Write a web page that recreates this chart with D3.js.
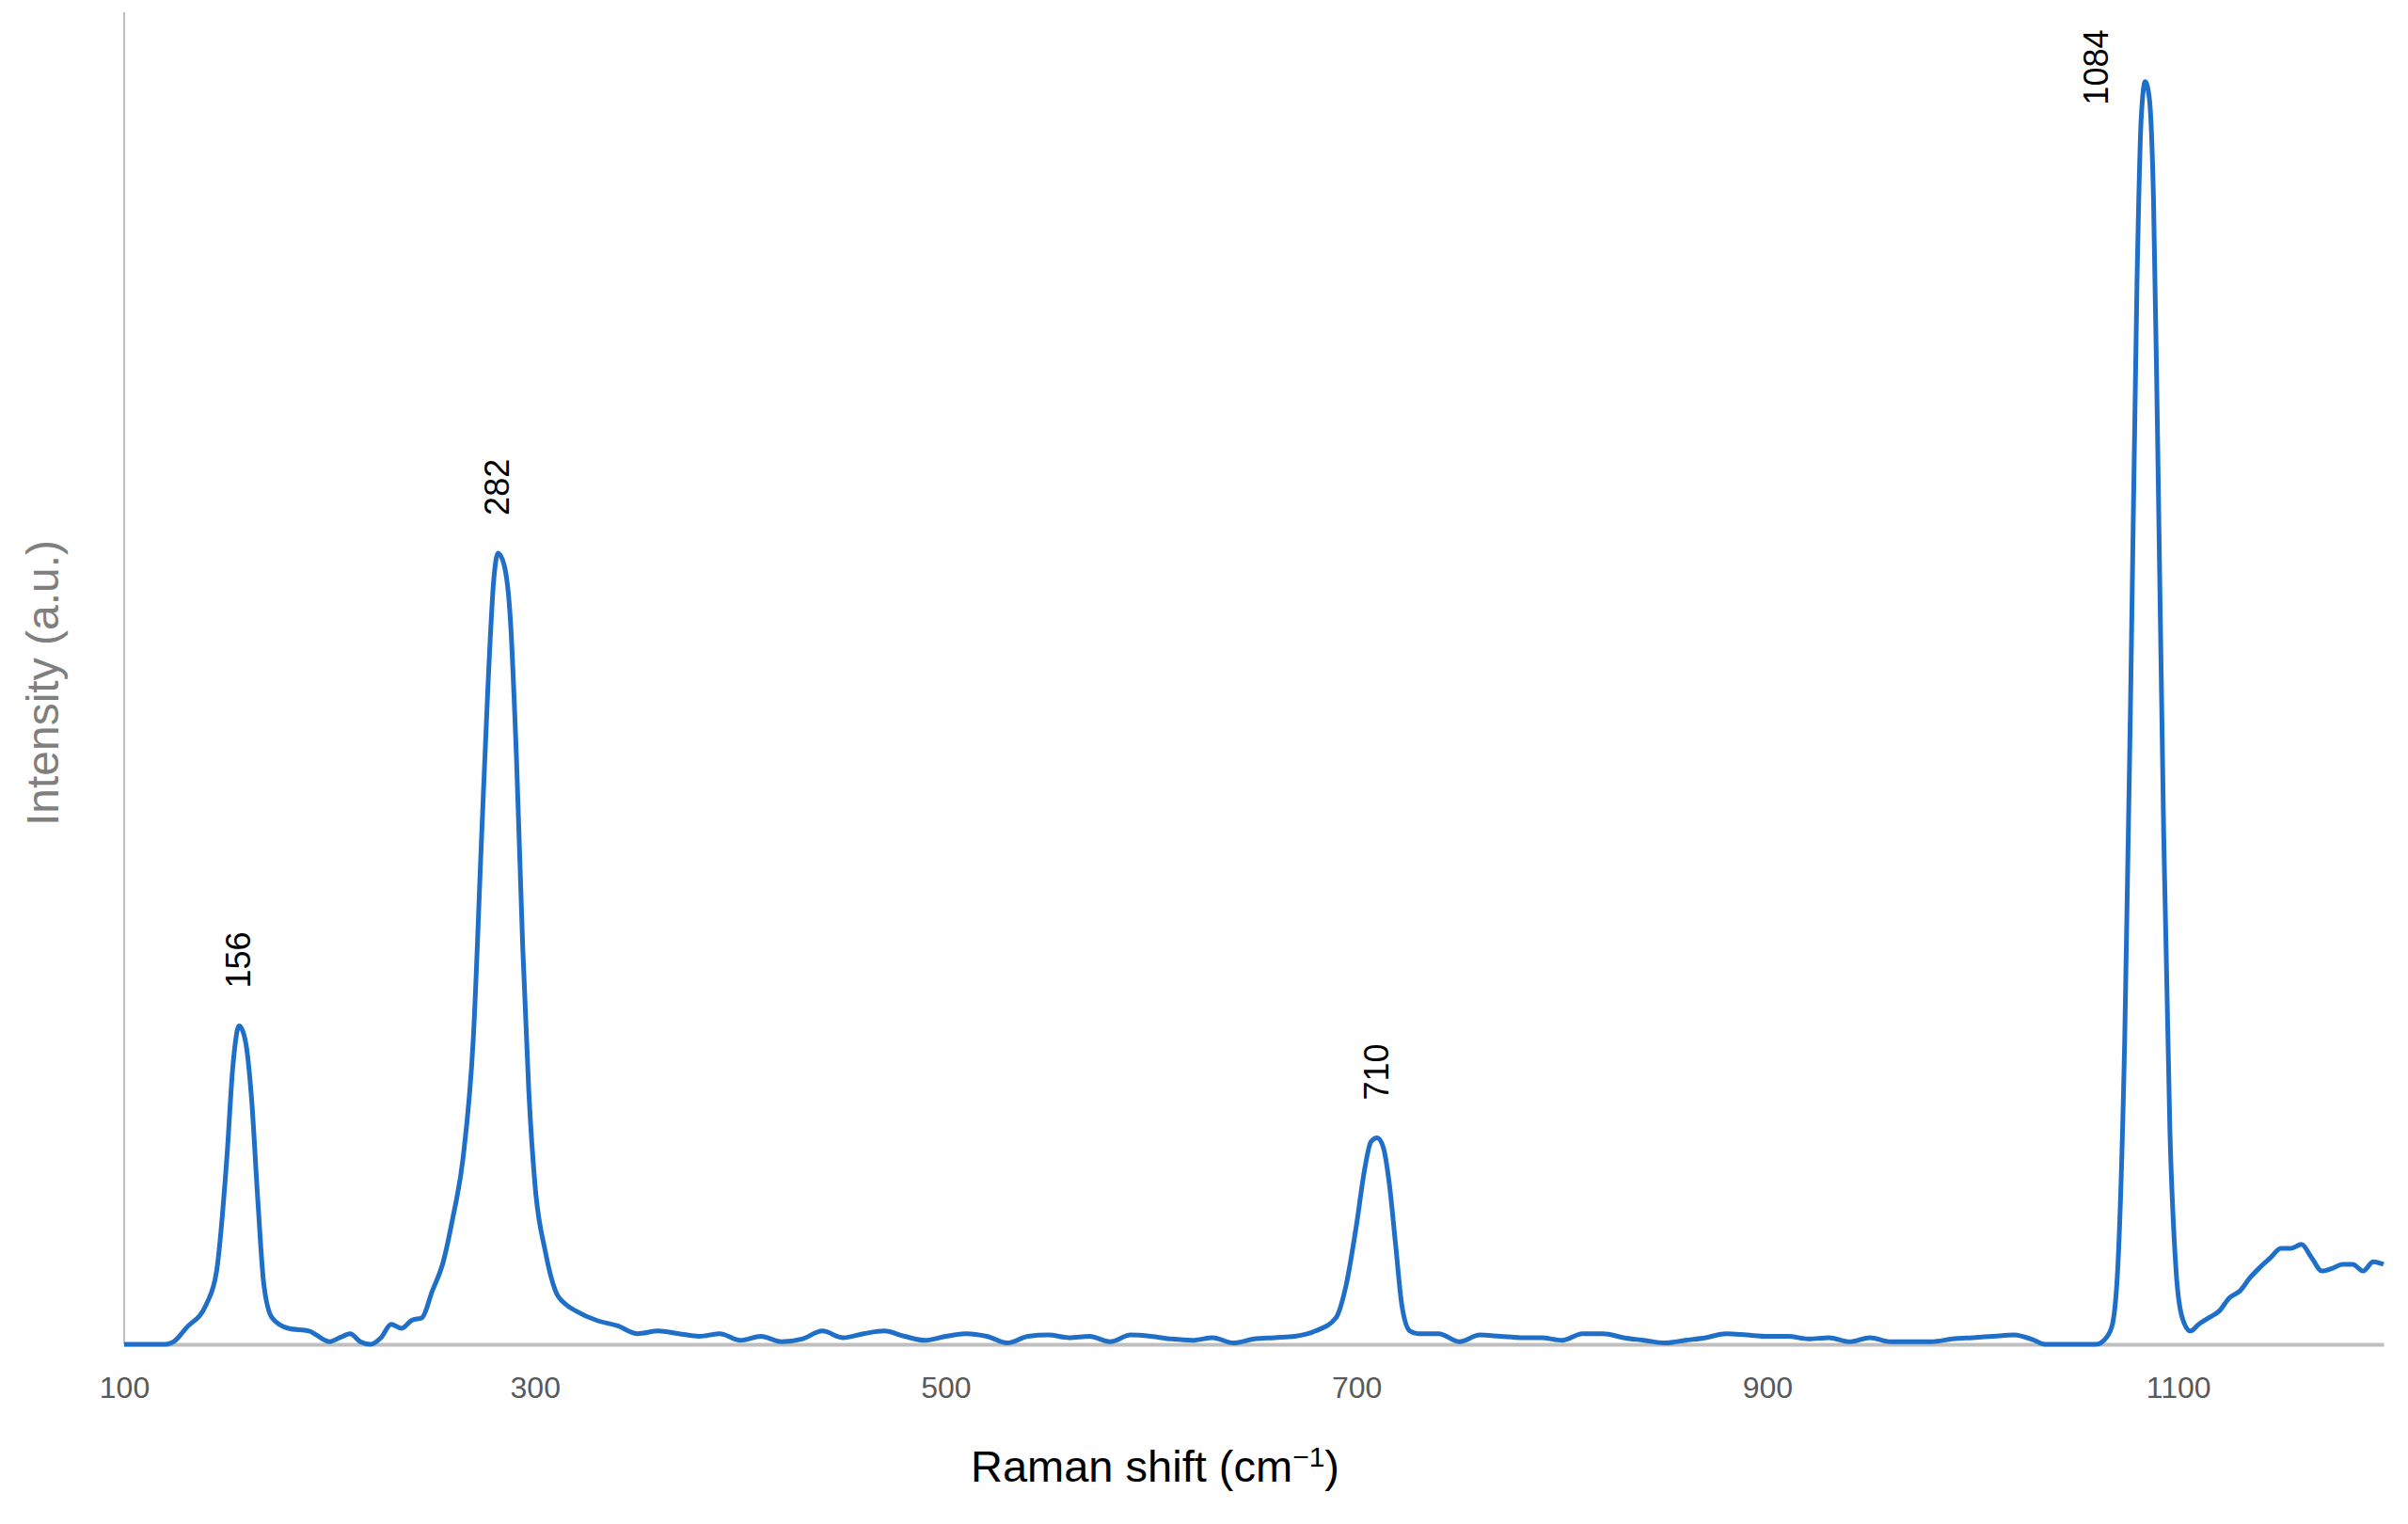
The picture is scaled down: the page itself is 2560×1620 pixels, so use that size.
<!DOCTYPE html>
<html><head><meta charset="utf-8">
<script src="https://cdn.jsdelivr.net/npm/d3@7"></script>
<style>body{margin:0;background:#fff}svg{display:block}text{font-family:Arial,"Liberation Sans",sans-serif}</style>
</head><body><svg id="c" width="2560" height="1620"></svg>
<script>
const shift = [100,110,120,125,130,140,145,150,153,156,159,162,165,168,172,180,190,200,205,210,215,220,225,230,235,240,245,250,255,260,265,270,274,277,280,282,285,288,291,294,297,300,305,310,315,320,330,340,350,360,370,380,390,400,410,420,430,440,450,460,470,480,490,500,510,520,530,540,550,560,570,580,590,600,610,620,630,640,650,660,670,680,690,695,700,704,707,710,713,716,719,722,726,730,740,750,760,770,780,790,800,810,820,830,840,850,860,870,880,890,900,910,920,930,940,950,960,970,980,990,1000,1010,1020,1030,1035,1050,1060,1065,1068,1071,1074,1077,1080,1082,1084,1086,1088,1090,1093,1096,1099,1102,1106,1110,1115,1120,1125,1130,1135,1140,1145,1150,1155,1160,1165,1170,1175,1180,1185,1190,1195,1200];
const intensity = [0,0,0,3,12,30,55,140,210,239,228,185,110,45,20,12,10,2,5,8,2,0,5,15,12,18,20,40,60,95,140,230,380,490,575,594,585,545,440,300,190,120,70,40,30,25,18,14,8,10,8,6,8,3,6,2,4,10,5,8,10,6,3,6,8,6,1,6,7,5,6,2,7,6,4,3,5,1,4,5,6,10,20,45,90,132,152,155,148,120,75,30,10,8,8,2,7,6,5,5,3,8,8,5,3,1,3,5,8,7,6,6,4,5,2,5,2,2,2,4,5,6,7,3,0,0,0,5,15,70,230,500,800,920,948,935,860,680,380,160,55,20,10,15,20,25,35,40,50,58,65,72,72,75,65,55,57,60,60,55,62,60];
const xTicks = [100,300,500,700,900,1100];
const peakLabels = [156,282,710,1084];
const peakValues = [239,594,155,948];

const svg = d3.select("#c");
const L=132,R=2534,T=13,B=1429;
const x = d3.scaleLinear().domain([100,1200]).range([L,R]);
const y = d3.scaleLinear().domain([0,1000]).range([B,T]);

svg.append("line").attr("x1",L).attr("x2",L).attr("y1",T).attr("y2",B).attr("stroke","#bfbfbf").attr("stroke-width",2);
const ax = svg.append("g").attr("transform",`translate(0,${B})`)
  .call(d3.axisBottom(x).tickValues(xTicks).tickSize(0).tickPadding(34).tickFormat(d3.format("d")));
ax.select(".domain").attr("stroke","#bfbfbf").attr("stroke-width",4);
ax.selectAll("text").attr("font-size",32).attr("fill","#595959");

const pts = shift.map((s,i)=>[s,intensity[i]]);
svg.append("path").datum(pts).attr("fill","none").attr("stroke","#1f6fc9").attr("stroke-width",5)
  .attr("stroke-linejoin","round")
  .attr("d",d3.line().x(d=>x(d[0])).y(d=>y(d[1])).curve(d3.curveMonotoneX));

peakLabels.forEach((p,i)=>{
  let px=x(p)+12, py=y(peakValues[i])-40;
  if (i===3) { px = x(p)-40; py = y(peakValues[i])+25; }
  svg.append("text").attr("transform",`translate(${px},${py}) rotate(-90)`)
    .attr("font-size",36).attr("fill","#000").text(p);
});

svg.append("text").attr("x",1228).attr("y",1575).attr("text-anchor","middle")
  .attr("font-size",47).attr("fill","#000")
  .html('Raman shift (cm<tspan baseline-shift="super" font-size="30">−1</tspan>)');
svg.append("text").attr("transform",`translate(62,${(T+B)/2+5}) rotate(-90)`).attr("text-anchor","middle")
  .attr("font-size",48).attr("fill","#7f7f7f").text("Intensity (a.u.)");
</script></body></html>
